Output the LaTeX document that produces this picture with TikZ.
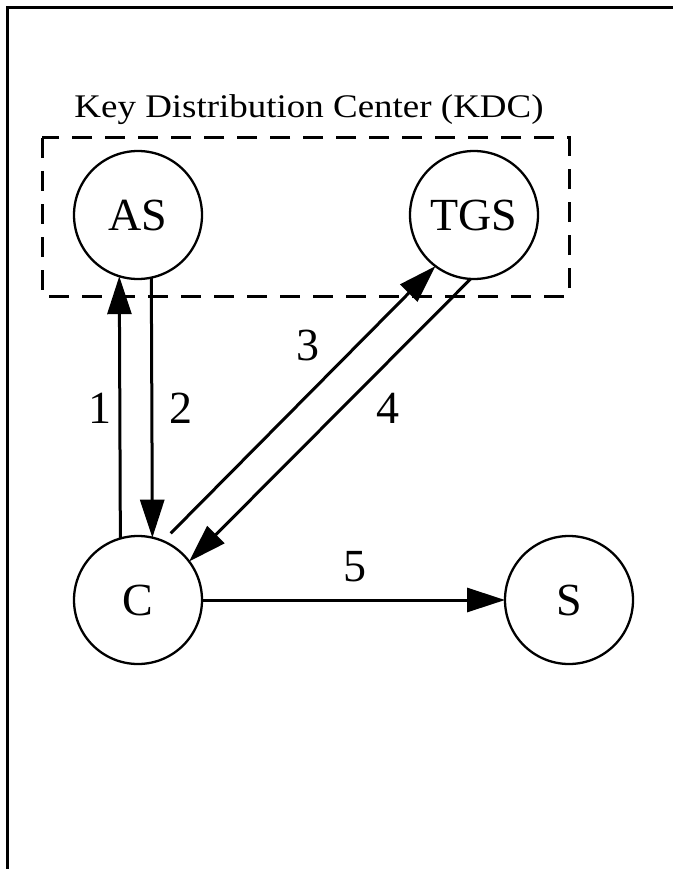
\documentclass[tikz,border=0pt]{standalone}
\usepackage{fontspec}
\setmainfont{Liberation Serif}
\usetikzlibrary{arrows.meta}
\tikzset{
  srv/.style={draw, circle, line width=2.3pt, minimum size=128pt, inner sep=0pt, outer sep=0pt, font=\fontsize{46}{50}\selectfont},
  arr/.style={line width=3pt, -{Triangle[length=38pt,width=24pt]}},
  num/.style={font=\fontsize{46}{50}\selectfont, inner sep=0pt},
  kdcbox/.style={draw, line width=3pt, dash pattern=on 20pt off 13pt},
  frame/.style={line width=2.5pt}
}
\begin{document}
\begin{tikzpicture}[x=1pt,y=-1pt]
\useasboundingbox (0,0) rectangle (673,869);
\fill[white] (0,0) rectangle (673,869);
\draw[frame] (7.5,869) -- (7.5,7.5) -- (673,7.5);
\draw[kdcbox] (42,138) rectangle (569,296);
\node[font=\fontsize{33}{36}\selectfont, anchor=base, inner sep=0pt] (title) at (309,118) {\scalebox{1.12}[1]{Key Distribution Center (KDC)}};
\node[srv] (AS) at (138,215) {AS};
\node[srv] (TGS) at (474,215) {TGS};
\node[srv] (C) at (138,600) {C};
\node[srv] (S) at (569,600) {S};
\draw[arr] (C.106.3) -- (AS.253.7);
\draw[arr] (AS.282.7) -- (C.77.3);
\draw[arr, shorten <=11pt] (C.67.9) -- (TGS.233.8);
\draw[arr] (TGS.267.3) -- (C.37.4);
\draw[arr] (C) -- (S);
\node[num] (n1) at (100,408) {1};
\node[num] (n2) at (181,408) {2};
\node[num] (n3) at (308,345) {3};
\node[num] (n4) at (388,408) {4};
\node[num] (n5) at (355,567) {5};
\end{tikzpicture}
\end{document}
